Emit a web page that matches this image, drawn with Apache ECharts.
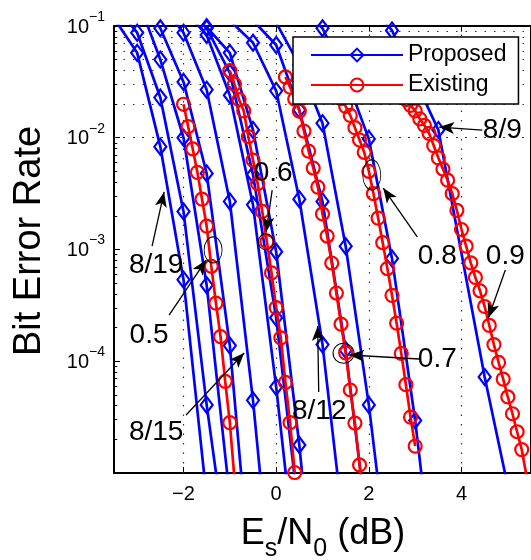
<!DOCTYPE html>
<html><head><meta charset="utf-8">
<script src="https://cdn.jsdelivr.net/npm/echarts@6/dist/echarts.min.js"></script>
<style>html,body{margin:0;padding:0;background:#fff}#c{width:531px;height:560px}</style>
</head><body><div id="c"></div>
<script>
// ---------- Proposed (blue) curves: Es/N0 (dB) and BER ----------
const p819_x = [-3.5,-3.0,-2.5,-2.0,-1.5];
const p819_y = [0.1175,0.0575,0.00832,5.37e-4,6.0e-6];
const p818_x = [-3.5,-3.0,-2.5,-2.0,-1.5,-1.0];
const p818_y = [0.158,0.0871,0.0229,0.00219,4.07e-5,1.26e-6];
const p817_x = [-3.0,-2.5,-2.0,-1.5,-1.0];
const p817_y = [0.178,0.0501,0.0100,4.79e-4,6.0e-6];
const p816_x = [-3.0,-2.5,-2.0,-1.5,-1.0,-0.5];
const p816_y = [0.2,0.0955,0.0316,0.00479,1.38e-4,6.3e-7];
const p815_x = [-2.5,-2.0,-1.5,-1.0,-0.5,0.0];
const p815_y = [0.158,0.0871,0.0269,0.00269,4.47e-5,3.2e-7];
const p814_x = [-2.0,-1.5,-1.0,-0.5,0.0,0.5];
const p814_y = [0.141,0.0832,0.0240,0.00251,5.89e-5,7.9e-7];
const pA_x = [-2.0,-1.5,-1.0,-0.5,0.0,0.5];
const pA_y = [0.158,0.0955,0.0380,0.00468,2.45e-4,3.98e-6];
const p813_x = [-2.0,-1.5,-1.0,-0.5,0.0,0.5,1.0];
const p813_y = [0.141,0.0977,0.0575,0.01175,9.55e-4,1.78e-5,1.3e-7];
const p812_x = [-1.0,-0.5,0.0,0.5,1.0,1.5];
const p812_y = [0.112,0.0708,0.0263,0.00282,1.41e-4,2.24e-6];
const pB_x = [-0.5,0.0,0.5,1.0,1.5,2.0];
const pB_y = [0.112,0.0676,0.01778,0.00269,1.26e-4,2.51e-6];
const p811_x = [0.0,0.5,1.0,1.5,2.0,2.5];
const p811_y = [0.107,0.0447,0.0135,0.00107,4.07e-5,7.9e-7];
const p810_x = [0.5,1.0,1.5,2.0,2.5,3.0,3.5];
const p810_y = [0.158,0.0955,0.0355,0.00977,8.32e-4,2.95e-5,5.0e-7];
const p89_x = [1.5,2.5,3.5,4.5,5.5];
const p89_y = [0.282,0.0912,0.01175,7.24e-5,7.9e-7];

// ---------- Existing (red) curves ----------
const e05_x = [-2.0,-1.9,-1.8,-1.7,-1.6,-1.5,-1.4,-1.3,-1.2,-1.1,-1.0,-0.9];
const e05_y = [0.01995,0.01259,0.00794,0.0049,0.00282,0.00162,7.08e-4,3.31e-4,1.66e-4,6.61e-5,2.82e-5,8.9e-6];
const e06_x = [-1.0,-0.9,-0.8,-0.7,-0.6,-0.5,-0.4,-0.3,-0.2,-0.1,0.0,0.1,0.2,0.3,0.4];
const e06_y = [0.0398,0.0302,0.0219,0.0174,0.01023,0.00631,0.00389,0.00219,0.001175,6.17e-4,3.02e-4,1.62e-4,6.46e-5,2.82e-5,1.01e-5];
const e07_x = [0.2,0.3,0.4,0.5,0.6,0.7,0.8,0.9,1.0,1.1,1.2,1.3,1.4,1.5,1.6,1.7,1.8,1.9];
const e07_y = [0.0350,0.0284,0.0222,0.01734,0.01148,0.0076,0.00536,0.00362,0.00208,0.00132,7.57e-4,4.08e-4,2.15e-4,1.19e-4,5.53e-5,2.80e-5,1.18e-5,5.0e-6];
const e08_x = [1.3,1.4,1.5,1.6,1.7,1.8,1.9,2.0,2.1,2.2,2.3,2.4,2.5,2.6,2.7,2.8,2.9,3.0];
const e08_y = [0.0263,0.0224,0.0191,0.01585,0.0123,0.00955,0.00741,0.00501,0.00316,0.00191,0.00115,6.76e-4,3.89e-4,2.19e-4,1.175e-4,6.17e-5,3.16e-5,1.74e-5];
const e09_x = [2.7,2.8,2.9,3.0,3.1,3.2,3.3,3.4,3.5,3.6,3.7,3.8,3.9,4.0,4.1,4.2,4.3,4.4,4.5,4.6,4.7,4.8,4.9,5.0,5.1,5.2,5.3,5.4];
const e09_y = [0.0251,0.0219,0.0195,0.0174,0.01479,0.01288,0.01096,0.00851,0.00661,0.00525,0.00417,0.00316,0.00224,0.00151,0.00107,7.59e-4,5.62e-4,4.27e-4,3.09e-4,2.09e-4,1.41e-4,9.77e-5,6.92e-5,4.79e-5,3.39e-5,2.34e-5,1.62e-5,9.55e-6];

// ---------- Axis ticks ----------
const xTicks = [-2,0,2,4];
const yLabelExp = [-1,-2,-3,-4];
const yDecades = [1e-5,1e-4,1e-3,1e-2];
const minorMult = [2,3,4,5,6,7,8,9];

// ---------- Annotations (data coordinates) ----------
const annText  = ['0.6','8/19','0.5','8/15','8/12','0.7','0.8','0.9','8/9'];
const annTextX = [-0.065,-2.59,-2.743,-2.59,0.929,3.477,3.477,4.946,4.881];
const annTextY = [0.00484,7.26e-4,1.72e-4,2.33e-5,3.59e-5,1.05e-4,8.75e-4,8.75e-4,0.01172];
const arrFromX = [-0.086,-2.678,-2.311,-1.944,0.918,3.089,3.045,4.946,4.449];
const arrFromY = [0.0034,0.001074,2.59e-4,3.30e-5,5.31e-5,1.047e-4,0.001294,6.56e-4,0.01172];
const arrToX   = [-0.216,-2.419,-1.512,-0.691,0.896,1.577,2.311,4.579,3.52];
const arrToY   = [0.001436,0.003273,8.05e-4,1.186e-4,2.07e-4,1.138e-4,0.003548,2.44e-4,0.01247];
const ellX = [-0.222,-1.361,1.454,2.063];
const ellY = [0.001175,9.91e-4,1.178e-4,0.004645];

const FF = '"Liberation Sans", Arial, Helvetica, sans-serif';
const BLUE = '#0000ff', RED = '#ff0000';
const ellSize = [[15,16],[18,26],[21,20],[18,30]];

function pairs(xs, ys){ return xs.map((x,i)=>[x, ys[i]]); }
function prop(xs, ys){
  return {name:'Proposed', type:'line', data:pairs(xs,ys), symbol:'diamond', symbolSize:[12,16],
    lineStyle:{color:BLUE,width:2.7}, itemStyle:{color:'rgba(255,255,255,0)',borderColor:BLUE,borderWidth:2.2},
    clip:true, z:3, silent:true, animation:false};
}
function exist(xs, ys){
  return {name:'Existing', type:'line', data:pairs(xs,ys), symbol:'circle', symbolSize:13,
    lineStyle:{color:RED,width:2.7}, itemStyle:{color:'rgba(255,255,255,0)',borderColor:RED,borderWidth:2.2},
    clip:true, z:4, silent:true, animation:false};
}

const yMinor = [];
yDecades.forEach(d=>minorMult.forEach(m=>yMinor.push(m*d)));
const yGrid = yMinor.concat([1e-4,1e-3,1e-2]);

const gridSeries = {type:'line', data:[], silent:true, z:1, animation:false,
  markLine:{silent:true, animation:false, symbol:['none','none'], label:{show:false},
    lineStyle:{color:'#333', width:1.2, type:[1.5,8]},
    data: yGrid.map(v=>({yAxis:v})).concat(xTicks.map(v=>({xAxis:v})))}};

const tickSeries = {type:'line', data:[], silent:true, z:6, animation:false,
  markLine:{silent:true, animation:false, symbol:['none','none'], label:{show:false},
    lineStyle:{color:'#000', width:1, type:'solid'},
    data: yMinor.map(v=>[{coord:[-3.5,v]},{coord:[-3.43,v]}])
      .concat(xTicks.map(v=>[{coord:[v,0.1]},{coord:[v,0.0891]}]))}};

const annSeries = {type:'line', data:[], silent:true, z:7, animation:false,
  markLine:{silent:true, animation:false, symbol:['none','arrow'], symbolSize:12, label:{show:false},
    lineStyle:{color:'#000', width:1.3, type:'solid'},
    data: annText.map((t,i)=>[{coord:[arrFromX[i],arrFromY[i]], symbol:'none'},
                              {coord:[arrToX[i],arrToY[i]], symbol:'arrow', symbolSize:[9,15]}])},
  markPoint:{silent:true, animation:false,
    data: ellX.map((x,i)=>({coord:[x,ellY[i]], symbol:'circle', symbolSize:ellSize[i],
        itemStyle:{color:'rgba(0,0,0,0)', borderColor:'#000', borderWidth:1}, label:{show:false}}))
      .concat(annText.map((t,i)=>({coord:[annTextX[i],annTextY[i]], symbol:'circle', symbolSize:1,
        itemStyle:{color:'rgba(0,0,0,0)'},
        label:{show:true, position:'inside', formatter:t, fontSize:28, fontFamily:FF, color:'#000'}})))}};

const option = {
  backgroundColor:'#fff',
  animation:false,
  grid:{left:114, top:26, width:417, height:447, show:true, borderColor:'#000', borderWidth:2, backgroundColor:'rgba(0,0,0,0)'},
  xAxis:{type:'value', min:-3.5, max:5.5,
    axisLine:{onZero:false, lineStyle:{color:'#000', width:2}},
    axisTick:{inside:true, length:6, customValues:xTicks, lineStyle:{color:'#000'}},
    axisLabel:{customValues:xTicks, formatter:v=> v<0 ? '\u2212'+(-v) : String(v), fontSize:20, fontFamily:FF, color:'#000', margin:11},
    splitLine:{show:false}},
  yAxis:{type:'log', logBase:10, min:1e-5, max:1e-1,
    axisLine:{onZero:false, lineStyle:{color:'#000', width:2}},
    axisTick:{inside:true, length:6, lineStyle:{color:'#000'}},
    axisLabel:{show:false},
    splitLine:{show:false}},
  legend:{data:['Proposed','Existing'], orient:'vertical', left:293, top:37, itemWidth:92, itemHeight:16, itemGap:6,
    padding:[6,12,7,17], backgroundColor:'#fff', borderColor:'#000', borderWidth:1.5, selectedMode:false, z:20,
    textStyle:{fontSize:23, fontFamily:FF, color:'#000', lineHeight:24}},
  series:[
    gridSeries,
    prop(p819_x,p819_y), prop(p818_x,p818_y), prop(p817_x,p817_y), prop(p816_x,p816_y),
    prop(p815_x,p815_y), prop(p814_x,p814_y), prop(pA_x,pA_y), prop(p813_x,p813_y),
    prop(p812_x,p812_y), prop(pB_x,pB_y), prop(p811_x,p811_y), prop(p810_x,p810_y), prop(p89_x,p89_y),
    exist(e05_x,e05_y), exist(e06_x,e06_y), exist(e07_x,e07_y), exist(e08_x,e08_y), exist(e09_x,e09_y),
    tickSeries, annSeries
  ]
};
const chart = echarts.init(document.getElementById('c'), null, {renderer:'canvas'});
chart.setOption(option);

// ----- text with super/subscripts placed from measured widths -----
const mctx = document.createElement('canvas').getContext('2d');
function tw(s, size){ mctx.font = size+'px '+FF; return mctx.measureText(s).width; }
function txt(x, y, s, size, align, extra){
  return Object.assign({type:'text', x:x, y:y, z:30, silent:true,
    style:{text:s, font:size+'px '+FF, fill:'#000', align:align, verticalAlign:'middle',
           textAlign:align, textVerticalAlign:'middle'}}, extra||{});
}
const els = [];
// y tick labels 10^-k
const labRight = 105;
yLabelExp.forEach(e=>{
  const py = chart.convertToPixel({yAxisIndex:0}, Math.pow(10,e));
  const sup = '\u2212'+(-e);
  const ws = tw(sup,14);
  els.push(txt(labRight-ws, py+1, '10', 20, 'right'));
  els.push(txt(labRight-ws, py-9, sup, 14, 'left'));
});
// y axis title
els.push(txt(30, 241, 'Bit Error Rate', 38, 'center', {rotation:Math.PI/2}));
// x axis title E_s/N_0 (dB)
const parts = [['E',36,0],['s',25,1],['/N',36,0],['0',25,1],[' (dB)',36,0]];
let W = 0; parts.forEach(p=>{W += tw(p[0],p[1]);});
let cx = 323 - W/2;
parts.forEach(p=>{
  els.push(txt(cx, p[2] ? 549 : 534, p[0], p[1], 'left'));
  cx += tw(p[0],p[1]);
});
chart.setOption({graphic: els});
</script>
</body></html>
